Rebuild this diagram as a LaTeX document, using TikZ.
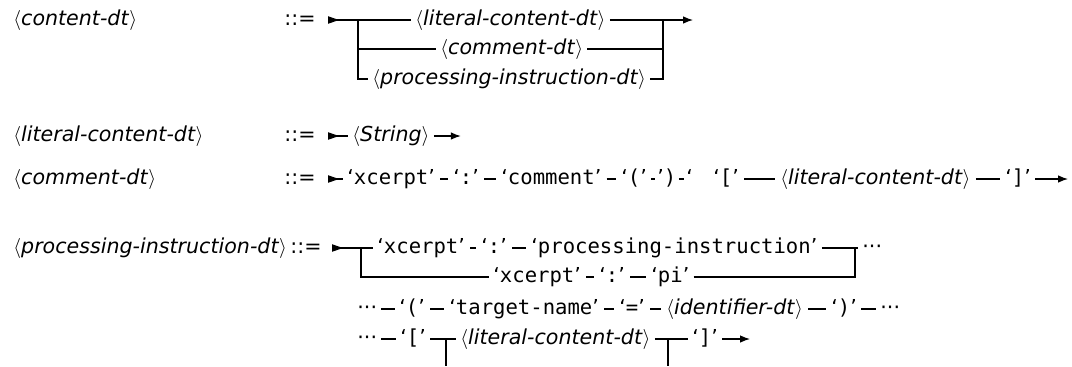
\documentclass[tikz,border=0pt]{standalone}
\usepackage{fontspec}
\setmainfont{DejaVu Sans}
\setmonofont{DejaVu Sans Mono}
\usetikzlibrary{arrows.meta}
\newcommand\ntm[1]{$\langle$\textit{#1}$\rangle$}
\newcommand\tmm[1]{‘\texttt{#1}’}
\begin{document}
\begin{tikzpicture}[x=0.5pt,y=-0.5pt,
  every node/.style={font=\fontsize{10.3pt}{12pt}\selectfont, inner ysep=0pt, inner xsep=2pt, text height=8pt, text depth=2.4pt, anchor=west},
  lbl/.style={inner xsep=0pt},
  eqs/.style={anchor=center, inner xsep=0pt},
  tight/.style={inner xsep=1pt},
  ln/.style={line width=0.6pt},
  dsh/.style={line width=0.6pt, shorten <=0.5pt, shorten >=0.5pt},
  arr/.style={line width=0.6pt,-{Latex[length=5pt,width=3.8pt]}},
  smark/.pic={\fill (0,-3.8) -- (11,0) -- (0,3.8) -- cycle;}
]
\useasboundingbox (0,0) rectangle (1072,366);

% ---------- row 1
\node[lbl] (l1) at (13,20) {\ntm{content-dt}};
\node[eqs] (e1) at (300,20) {::=};
\pic at (328,20) {smark};
\coordinate (m1) at (337,20);
\coordinate (b1) at (358,20);
\node (lit1) at (411,20) {\ntm{literal-content-dt}};
\node (com1) at (436,49) {\ntm{comment-dt}};
\node (pid1) at (368,79) {\ntm{processing-instruction-dt}};
\coordinate (j1) at (663,20);
\coordinate (x1) at (693,20);
\draw[ln] (m1) -- (b1) -- (lit1.west);
\draw[ln] (lit1.east) -- (j1);
\draw[ln] (b1) |- (pid1.west);
\draw[ln] (b1 |- com1) -- (com1.west);
\draw[ln] (com1.east) -- (j1 |- com1);
\draw[ln] (pid1.east) -| (j1);
\draw[arr] (j1) -- (x1);

% ---------- row 2
\node[lbl] (l2) at (13,136) {\ntm{literal-content-dt}};
\node[eqs] (e2) at (300,136) {::=};
\pic at (328,136) {smark};
\coordinate (m2) at (337,136);
\node (str2) at (348,136) {\ntm{String}};
\coordinate (x2) at ([xshift=13.5pt]str2.east);
\draw[ln] (m2) -- (str2.west);
\draw[arr] (str2.east) -- (x2);

% ---------- row 3
\node[lbl] (l3) at (13,179) {\ntm{comment-dt}};
\node[eqs] (e3) at (300,179) {::=};
\pic at (328,179) {smark};
\coordinate (m3) at (337,179);
\node (xc3) at (343,179) {\tmm{xcerpt}};
\node (co3) at (449,179) {\tmm{:}};
\node (cm3) at (497,179) {\tmm{comment}};
\node (lp3) at (617,179) {\tmm{(}};
\node[tight] (rp3) at (655,179) {’\texttt{)}};
\node[tight] (sp3) at (684,179) {‘};
\node (lb3) at (709,179) {\tmm{[}};
\node (li3) at (776,179) {\ntm{literal-content-dt}};
\node (rb3) at (1001,179) {\tmm{]}};
\coordinate (x3) at (1068,179);
\draw[ln] (m3) -- (xc3.west);
\draw[dsh] (xc3.east) -- (co3.west);
\draw[dsh] (co3.east) -- (cm3.west);
\draw[dsh] (cm3.east) -- (lp3.west);
\draw[ln] (lp3.east) -- (rp3.west);
\draw[ln] (rp3.east) -- (sp3.west);
\draw[dsh] (lb3.east) -- (li3.west);
\draw[dsh] (li3.east) -- (rb3.west);
\draw[arr] (rb3.east) -- (x3);

% ---------- row 4
\node[lbl] (l4) at (13,248) {\ntm{processing-instruction-dt}};
\node[eqs] (e4) at (306,248) {::=};
\pic at (332,248) {smark};
\coordinate (m4) at (341,248);
\coordinate (b4) at (361,248);
\node (xc4) at (373,248) {\tmm{xcerpt}};
\node (co4) at (477,248) {\tmm{:}};
\node (pi4) at (527,248) {\tmm{processing-instruction}};
\coordinate (j4) at (855,248);
\node (d4) at (858,248) {···};
\node (xc4b) at (489,277) {\tmm{xcerpt}};
\node (co4b) at (595,277) {\tmm{:}};
\node (pb4) at (647,277) {\tmm{pi}};
\draw[ln] (m4) -- (b4) -- (xc4.west);
\draw[dsh] (xc4.east) -- (co4.west);
\draw[dsh] (co4.east) -- (pi4.west);
\draw[ln] (pi4.east) -- (d4.west);
\draw[ln] (b4) |- (xc4b.west);
\draw[dsh] (xc4b.east) -- (co4b.west);
\draw[dsh] (co4b.east) -- (pb4.west);
\draw[ln] (pb4.east) -| (j4);

% ---------- row 5
\node (d5) at (353,309) {···};
\node (lp5) at (395,309) {\tmm{(}};
\node (tn5) at (445,309) {\tmm{target-name}};
\node (eq5) at (615,309) {\tmm{=}};
\node (id5) at (662,309) {\ntm{identifier-dt}};
\node (rp5) at (827,309) {\tmm{)}};
\node (d5b) at (876,309) {···};
\draw[ln] (d5.east) -- (lp5.west);
\draw[dsh] (lp5.east) -- (tn5.west);
\draw[dsh] (tn5.east) -- (eq5.west);
\draw[dsh] (eq5.east) -- (id5.west);
\draw[dsh] (id5.east) -- (rp5.west);
\draw[ln] (rp5.east) -- (d5b.west);

% ---------- row 6
\node (d6) at (353,339) {···};
\node (lb6) at (396,339) {\tmm{[}};
\node (li6) at (456,339) {\ntm{literal-content-dt}};
\node (rb6) at (688,339) {\tmm{]}};
\coordinate (x6) at (750,339);
\coordinate (ba) at (446,339);
\coordinate (bb) at (668,339);
\coordinate (ba2) at (446,366);
\coordinate (bb2) at (668,366);
\draw[ln] (d6.east) -- (lb6.west);
\draw[ln] (lb6.east) -- (li6.west);
\draw[ln] (li6.east) -- (rb6.west);
\draw[arr] (rb6.east) -- (x6);
\draw[ln] (ba) -- (ba2);
\draw[ln] (bb) -- (bb2);
\end{tikzpicture}
\end{document}
